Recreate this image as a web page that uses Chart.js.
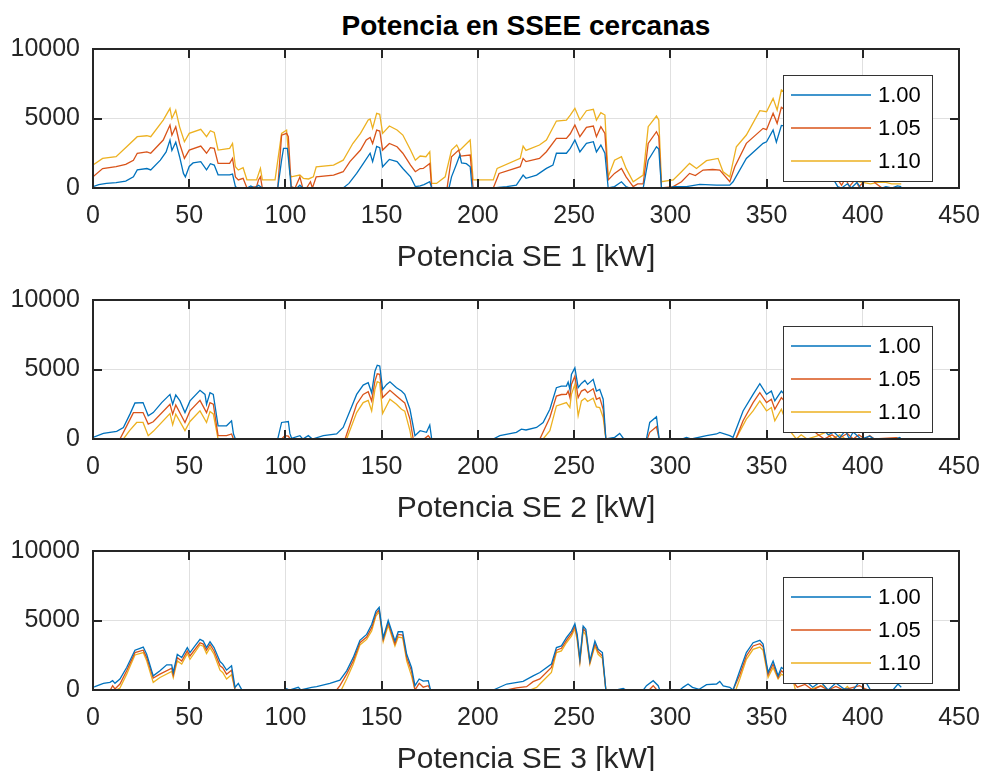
<!DOCTYPE html>
<html>
<head>
<meta charset="utf-8">
<script src="https://cdn.jsdelivr.net/npm/chart.js@4.4.1/dist/chart.umd.min.js"></script>
<style>
    html, body { margin: 0; padding: 0; background: #fff; width: 981px; height: 771px; overflow: hidden; }
    #title { position: absolute; left: 93px; width: 866px; top: 9px; text-align: center;
             font: bold 28px 'Liberation Sans', Arial, sans-serif; color: #000; line-height: 34px; }
    canvas { position: absolute; left: 0; }
</style>
</head>
<body>
<div id="title">Potencia en SSEE cercanas</div>
<canvas id="chartSE1" width="981" height="290" style="top:0px"></canvas>
<canvas id="chartSE2" width="981" height="290" style="top:251px"></canvas>
<canvas id="chartSE3" width="981" height="290" style="top:502px"></canvas>
<script>
// --- Données (x = potencia, y = valor) ---
const seriesLabels = ['1.00', '1.05', '1.10'];
const seriesColors = ['#0072BD', '#D95319', '#EDB120'];
const xAxisLabels = ['Potencia SE 1 [kW]', 'Potencia SE 2 [kW]', 'Potencia SE 3 [kW]'];
const xTickStep = 50, xMax = 450;
const yTickStep = 5000, yMax = 10000;

// SE 1
const se1_100 = [[0,100],[3,250],[7,330],[12,380],[17,500],[21,800],[23,1300],[28,1400],[30,1300],[35,2000],[38,2600],[40,3450],[41,2700],[43,3300],[45,2250],[47,1050],[48,800],[50,1550],[52,1800],[56,1900],[59,1300],[61,1750],[63,1650],[65,950],[71,950],[72.5,1000],[74,100],[75,0],[80,0],[82,150],[84,0],[86,200],[88,0],[96,0],[98,2000],[99,2850],[101,2850],[102,1500],[103,0],[106,0],[107.5,200],[109,0],[130,0],[133,330],[137,1050],[140.5,1770],[144,2500],[145.3,1900],[147.4,3000],[149,2900],[150.5,1530],[154,2060],[158,1900],[161,1400],[165,800],[167.5,100],[170,150],[172,250],[175,450],[176,0],[185,0],[186.3,800],[189,1770],[190.6,2370],[191.5,1800],[194,1750],[196,1530],[197,0],[208,0],[215,100],[220,200],[223.5,930],[225,700],[230.5,930],[235.6,1410],[239,1650],[240.8,2500],[246,2500],[248,2850],[250.4,3450],[253,2600],[256.4,3210],[260,3330],[261.6,2600],[263.9,3090],[266,2500],[267.7,0],[271,100],[274.6,450],[277,100],[279,0],[285.9,0],[288.5,2000],[292.8,2970],[294,2800],[295.4,0],[300,0],[301.5,100],[308.4,100],[315.3,260],[324,200],[330.9,200],[332.6,450],[339.5,2130],[348.2,3210],[350,3330],[353.4,4170],[355.1,3300],[357.7,4500],[362,4400],[370,3500],[378,2000],[384,800],[387,100],[389,0],[392,300],[394,0],[397,400],[399,0],[410,0],[412,100],[415,0],[418,150],[420,100]];
const se1_105 = [[0,800],[5,1400],[12,1530],[17,1700],[21,2000],[23,2500],[28,2600],[30,2500],[36.5,3450],[40,4530],[41,3800],[43,4400],[45,3200],[47.5,2130],[50,2730],[56,3020],[59,2500],[61,2900],[63,2850],[65,1770],[71,1770],[72.5,2130],[74,800],[75.5,580],[78,700],[80,0],[85,100],[86,580],[87,800],[88,0],[96,0],[98,3800],[100.6,3930],[101.5,3700],[103,100],[105,0],[107.5,800],[109,0],[111,0],[113,450],[114,0],[116,800],[125,930],[130,1170],[133.5,1900],[139,2730],[142,3450],[144,3640],[145.3,3200],[147.4,4170],[149,4100],[150.5,2730],[154,3200],[158,2970],[161,2500],[165,1650],[167.5,1170],[170,1400],[171.6,1410],[175,1770],[176,0],[184,0],[186.3,2250],[190,2730],[191,2300],[196,2370],[197.5,0],[208,0],[211,1050],[222,1530],[223.5,2130],[225,1900],[232,2130],[235.6,2610],[240.8,3570],[246,3570],[248,3900],[250.4,4530],[253,3690],[256.4,4360],[260,4460],[261.6,3690],[263.9,4410],[266,3930],[267.7,580],[271,1050],[274.6,1410],[277,800],[280.7,100],[283,300],[285.9,300],[288.5,3210],[292.8,4050],[294,3700],[295.4,0],[301.5,100],[305.8,450],[310,1050],[313,900],[317,1290],[322,1330],[325.7,1290],[330.9,450],[333.5,1530],[339.5,3210],[348.2,4290],[350,4200],[353.4,5370],[355.5,4650],[357.7,5800],[362,5400],[370,4300],[378,2800],[384,1500],[387,600],[389,200],[391,700],[393,100],[396,600],[398,100],[401,500],[404,700],[407,300],[410,0],[420,0]];
const se1_110 = [[0,1650],[5,2130],[12,2250],[17.5,2970],[23,3690],[28,3760],[30,3690],[36.5,4890],[40,5730],[41,5000],[43,5600],[45,4400],[47.5,3330],[50,3930],[56,4220],[59,3690],[61,4120],[63,4000],[65,2730],[71,2850],[72.5,3200],[74,1530],[75.5,1290],[78,1460],[80,580],[85,580],[87,1410],[88,580],[94.6,580],[98,3930],[100.6,4170],[102.3,1000],[103,800],[107.5,930],[109.3,700],[112,650],[114.5,800],[116,1530],[125,1650],[130,2000],[135,3200],[139,3930],[143,4890],[144,4960],[145.3,4290],[147.4,5370],[149,5300],[150.5,3930],[154,4460],[158,4170],[161,3810],[165,2730],[167.5,2000],[170,2300],[173,2250],[175,2610],[176,330],[178.5,330],[183,800],[186.3,2730],[189,3090],[190.5,2700],[196,3450],[197.5,580],[208,580],[210,1410],[222,2130],[223.5,3020],[225,2700],[232,3090],[235.6,3450],[240.8,4820],[246,4890],[248,5250],[250.4,5730],[253,4890],[256.4,5560],[260,5660],[261.6,4890],[263.9,5420],[266,5250],[267.7,800],[271,2000],[274.6,2250],[277,1410],[280.7,450],[285.9,930],[288.5,4410],[292.8,5180],[294,4900],[295.4,450],[301.5,580],[305.8,1170],[310,1770],[313.6,1400],[318.8,1970],[324.8,2130],[327.4,1170],[330.9,800],[334.3,2970],[339.5,3810],[346.5,5560],[350,5490],[353.4,6450],[355.5,5610],[357.7,7050],[362,6600],[370,5500],[378,4000],[384,2400],[388,1200],[392,600],[396,500],[400,400],[404,300],[408,400],[412,400],[415,300],[420,300]];

// SE 2
const se2_100 = [[0,120],[5.4,400],[12.3,550],[15.8,830],[19.2,1790],[21.8,2590],[26,2620],[28.7,1670],[31.3,1900],[35.7,2620],[40,3210],[41.4,2500],[43,3170],[45.2,2740],[47.8,1900],[50.4,2740],[55.6,3500],[58.2,3210],[59,2500],[60.8,3330],[62.5,3210],[65,950],[69.4,950],[72,1310],[73,360],[74,0],[96,0],[98,1190],[101.5,1260],[102.3,400],[103.2,50],[107.5,240],[109,0],[111.9,240],[114,0],[119.7,240],[126.6,360],[130,830],[133.5,2020],[137,3210],[140.4,3880],[143,4050],[144.8,3330],[146.5,4880],[147.7,5310],[149,5250],[150.5,3570],[152.6,3930],[154.3,4120],[157.7,3690],[160.3,3450],[162,3210],[164.7,2140],[167.3,240],[170,600],[173.3,480],[175,1000],[176,0],[208,0],[211.4,240],[220,480],[222.6,710],[225,650],[230.5,830],[233.9,1190],[237.4,2140],[240.8,3690],[243.4,3810],[246,3810],[246.9,4100],[247.8,3570],[248.6,4640],[250.4,5120],[252.1,3690],[253.8,4000],[255.6,4210],[257,3930],[259.9,4290],[261.6,3450],[263.3,3570],[265.1,2860],[266.5,0],[271.1,120],[273.7,400],[275.8,0],[287.6,0],[289.3,1190],[292.8,1600],[294.2,0],[306,0],[308.4,120],[311,0],[318.8,240],[324,360],[325.7,480],[330.9,240],[332.6,120],[337.8,2020],[343,3210],[346.5,3980],[350,3210],[352.5,3450],[354.3,2740],[357.7,3450],[362,2800],[370,1800],[378,900],[382,300],[385,500],[388,100],[391,600],[393,0],[395,500],[399,0],[403.6,200],[406,0],[417,0],[419.2,100],[420,0]];
const se2_105 = [[0,0],[14,0],[17,800],[21,1900],[26,1900],[28.7,1070],[31.3,1240],[40,2500],[41.4,1790],[43,2450],[47.8,1190],[50.4,2020],[55.6,2780],[59,1900],[60.8,2620],[62.5,2500],[65,240],[69.4,240],[72,360],[73,0],[98,0],[99.7,240],[101.5,200],[102.5,0],[131,0],[137,2500],[140.4,3210],[143,3400],[144.8,2740],[146.5,4170],[147.7,4690],[149,4650],[150.5,2980],[154.3,3500],[157.7,3090],[160.3,2780],[162,2600],[164.7,1430],[166.4,0],[172,0],[174.2,240],[175.5,0],[232.2,0],[237.4,1550],[240.8,3090],[243.4,3200],[246,3210],[246.9,3450],[247.8,2980],[248.6,3930],[250.4,4520],[252.1,2980],[253.8,3450],[255.6,3570],[257,3330],[259.9,3620],[261.6,2860],[263.3,2980],[265.1,2140],[266.5,0],[288,0],[289.3,480],[292.8,880],[294.2,0],[334,0],[337.8,1310],[343,2620],[346.5,3330],[350,2620],[352.5,2860],[354.3,2140],[357.7,2980],[362,2300],[370,1200],[376,400],[380,0],[384,300],[387,0],[392,400],[395,0],[398,300],[401,0],[403.6,240],[406,0],[417.5,100],[420,0]];
const se2_110 = [[0,0],[15.8,0],[19,600],[22.7,1190],[26,1190],[28.7,240],[31.3,550],[40,1830],[41.4,1020],[43,1790],[47.8,600],[50.4,1260],[55.6,2020],[59,1190],[60.8,1980],[62.5,1800],[65,0],[131.8,0],[137,1900],[140.4,2620],[143,2780],[144.8,2020],[146.5,3570],[147.7,4120],[149,4050],[150.5,1830],[154.3,2860],[157.7,2500],[160.3,2140],[162,2000],[164.7,600],[165.5,0],[233.9,0],[237.4,600],[240.8,2380],[246,2620],[247.8,2260],[248.6,3210],[250.4,3930],[252.1,1670],[253.8,2740],[255.6,2930],[257,2700],[259.9,2930],[261.6,2310],[263.3,2260],[265.1,1550],[266.5,0],[334,0],[339.5,1430],[343,2020],[346.5,2740],[350,2020],[352.5,2260],[354.3,1310],[357.7,2140],[362,600],[365.5,0],[368,300],[371,0],[376,200],[381,500],[384,0],[388,300],[391,0],[420,0]];

// SE 3
const se3_100 = [[0,200],[1,240],[5.4,480],[8.8,550],[10.2,670],[11.4,480],[14,790],[17.5,1620],[21.8,2860],[24.4,3000],[26.1,3090],[27.9,2570],[31.3,1020],[34.8,1380],[38.3,1810],[40.9,1810],[41.7,1260],[43.8,2570],[46.1,2330],[49,3050],[50.4,2690],[53,3170],[55.6,3640],[57.3,3520],[59,3050],[60.8,3470],[62.9,3050],[66,2050],[67.4,1860],[69.4,1430],[72,1740],[73.8,190],[75.5,480],[77.2,50],[79,0],[99,0],[100.6,100],[102,0],[106.7,190],[108,0],[113.6,190],[116.2,240],[123.1,480],[128.3,710],[131.8,1380],[135.2,2330],[138.7,3570],[142.2,4000],[144.8,4710],[147,5660],[148.7,5950],[150.8,3760],[153.4,5000],[156.9,3520],[158.6,4190],[160.9,4190],[163,2570],[165.5,1620],[167.3,310],[169.5,790],[171.6,640],[174.2,670],[175.4,0],[208,0],[215,430],[223.5,620],[228.7,1020],[232.2,1260],[238.2,1860],[240.8,3050],[243.4,3170],[246,3760],[248.6,4240],[250.4,4760],[251.6,4000],[253,2210],[254.7,4590],[256.1,4360],[258.2,2090],[260.8,3520],[262.5,2930],[264.7,2690],[266.5,0],[272,0],[275.5,120],[277,0],[286,0],[287.6,310],[291.1,670],[293.7,310],[294.5,0],[305,0],[306.6,190],[309.2,430],[311.5,190],[315,50],[318.8,380],[324,430],[325.7,620],[327.5,300],[330.9,190],[332.6,0],[336.1,1380],[339.5,2690],[343,3400],[346.5,3570],[348.2,3300],[350.8,1260],[353.4,2090],[356,1020],[357.7,1620],[362,1200],[366,500],[370,700],[374,200],[378,600],[382,0],[386,500],[390,100],[395,0],[398.4,620],[401.9,500],[404,0],[415.7,0],[418.3,430],[420,200]];
const se3_105 = [[0,0],[9,0],[10.2,310],[11.4,80],[14,430],[17.5,1380],[21.8,2690],[26.1,2860],[27.9,2330],[31.3,860],[34.8,1140],[40.9,1570],[41.7,1070],[43.8,2330],[46.1,2090],[49,2810],[50.4,2450],[55.6,3400],[57.3,3300],[59,2860],[60.8,3280],[62.9,2810],[66,1740],[67.4,1600],[69.4,1140],[72,1430],[73.8,0],[126.6,0],[128.3,310],[131.8,1140],[135.2,2090],[138.7,3400],[142.2,3810],[144.8,4470],[147,5470],[148.7,5780],[150.8,3640],[153.4,4830],[156.9,3330],[158.6,4000],[160.9,3950],[163,2330],[165.5,1380],[167.3,0],[169.5,480],[171.6,200],[174.2,310],[175.4,0],[215,0],[220,150],[225.3,240],[228.7,600],[232.2,800],[238.2,1620],[240.8,2860],[243.4,3000],[246,3570],[248.6,4050],[250.4,4590],[251.6,3810],[253,2090],[254.7,4430],[256.1,4190],[258.2,1980],[260.8,3330],[262.5,2760],[264.7,2450],[266.5,0],[289,0],[291.1,310],[293,0],[332.6,0],[336.1,1100],[339.5,2450],[343,3170],[346.5,3330],[348.2,3100],[350.8,1100],[353.4,1860],[356,900],[357.7,1380],[362,900],[366,200],[370,400],[374,0],[378,300],[382,0],[386,250],[390,0],[398.4,310],[401,100],[403,0],[420,0]];
const se3_110 = [[0,0],[12,0],[14,140],[17.5,1140],[21.8,2520],[26.1,2690],[27.9,2100],[31.3,550],[34.8,900],[40.9,1330],[41.7,900],[43.8,2090],[46.1,1860],[49,2620],[50.4,2210],[55.6,3240],[57.3,3150],[59,2620],[60.8,3050],[62.9,2570],[66,1430],[67.4,1260],[69.4,790],[72,1100],[73.8,0],[129,0],[131.8,790],[135.2,1860],[138.7,3240],[142.2,3640],[144.8,4240],[147,5310],[148.7,5620],[150.8,3470],[153.4,4660],[156.9,3170],[158.6,3810],[160.9,3760],[163,2090],[165.5,1020],[167.3,0],[227,0],[230.5,190],[232.2,430],[238.2,1260],[240.8,2690],[243.4,2810],[246,3400],[248.6,3880],[250.4,4430],[251.6,3570],[253,1980],[254.7,4240],[256.1,3950],[258.2,1860],[260.8,3170],[262.5,2570],[264.7,2280],[266.5,0],[334,0],[336.1,790],[339.5,2210],[343,2930],[346.5,3090],[348.2,2850],[350.8,900],[353.4,1620],[356,790],[357.7,1140],[362,800],[363.8,670],[365,0],[372,0],[376,200],[380,310],[381.5,0],[390,0],[392,250],[393.5,0],[420,0]];

const FONT = "'Liberation Sans', Arial, sans-serif";
const AXIS_COLOR = '#262626';
Chart.defaults.font.family = FONT;
Chart.defaults.color = AXIS_COLOR;

// Cadre, graduations intérieures et légende façon MATLAB
const matlabAxes = {
    id: 'matlabAxes',
    afterDatasetsDraw(chart) {
        const ctx = chart.ctx;
        const a = chart.chartArea;
        const xs = chart.scales.x, ys = chart.scales.y;
        const tick = 9;
        ctx.save();
        ctx.strokeStyle = AXIS_COLOR;
        ctx.lineWidth = 2;
        ctx.beginPath();
        xs.ticks.forEach(t => {
            const px = Math.round(xs.getPixelForValue(t.value));
            ctx.moveTo(px, a.bottom); ctx.lineTo(px, a.bottom - tick);
            ctx.moveTo(px, a.top); ctx.lineTo(px, a.top + tick);
        });
        ys.ticks.forEach(t => {
            const py = Math.round(ys.getPixelForValue(t.value));
            ctx.moveTo(a.left, py); ctx.lineTo(a.left + tick, py);
            ctx.moveTo(a.right, py); ctx.lineTo(a.right - tick, py);
        });
        ctx.stroke();
        ctx.strokeRect(a.left, a.top, a.right - a.left, a.bottom - a.top);

        // légende
        const lx = a.right - 176, ly = a.top + 26, lw = 149, lh = 106;
        ctx.fillStyle = '#fff';
        ctx.fillRect(lx, ly, lw, lh);
        ctx.lineWidth = 1;
        ctx.strokeStyle = '#333';
        ctx.strokeRect(lx + 0.5, ly + 0.5, lw, lh);
        ctx.font = '22px ' + FONT;
        ctx.textBaseline = 'middle';
        ctx.textAlign = 'left';
        chart.data.datasets.forEach((ds, i) => {
            const yy = ly + 20 + i * 33;
            ctx.strokeStyle = ds.borderColor;
            ctx.lineWidth = 1.5;
            ctx.beginPath();
            ctx.moveTo(lx + 8, yy); ctx.lineTo(lx + 88, yy);
            ctx.stroke();
            ctx.fillStyle = '#000';
            ctx.fillText(ds.label, lx + 95, yy + 1);
        });
        ctx.restore();
    }
};

function makeChart(canvasId, seriesList, xLabel) {
    return new Chart(document.getElementById(canvasId).getContext('2d'), {
        type: 'line',
        data: {
            datasets: seriesList.map((pts, i) => ({
                label: seriesLabels[i],
                data: pts.map(p => ({ x: p[0], y: p[1] })),
                borderColor: seriesColors[i],
                backgroundColor: seriesColors[i],
                borderWidth: 1.3,
                pointRadius: 0,
                tension: 0,
                fill: false
            }))
        },
        options: {
            responsive: false,
            animation: false,
            devicePixelRatio: 1,
            layout: { padding: { top: 49, right: 22, bottom: 14, left: 0 } },
            plugins: { legend: { display: false }, tooltip: { enabled: false }, title: { display: false } },
            scales: {
                x: {
                    type: 'linear',
                    min: 0, max: xMax,
                    border: { display: false },
                    grid: { color: '#e0e0e0', lineWidth: 1, drawTicks: false },
                    ticks: { stepSize: xTickStep, font: { size: 25 }, color: AXIS_COLOR, padding: 13, maxRotation: 0 },
                    title: { display: true, text: xLabel, font: { size: 30 }, color: AXIS_COLOR, padding: 0 },
                    afterFit(scale) { scale.height = 88; scale.paddingLeft = 0; scale.paddingRight = 0; }
                },
                y: {
                    min: 0, max: yMax,
                    border: { display: false },
                    grid: { color: '#e0e0e0', lineWidth: 1, drawTicks: false },
                    ticks: { stepSize: yTickStep, font: { size: 25 }, color: AXIS_COLOR, padding: 13,
                             callback: v => String(v) },
                    afterFit(scale) { scale.width = 93; scale.paddingTop = 0; scale.paddingBottom = 0; }
                }
            }
        },
        plugins: [matlabAxes]
    });
}

makeChart('chartSE1', [se1_100, se1_105, se1_110], xAxisLabels[0]);
makeChart('chartSE2', [se2_100, se2_105, se2_110], xAxisLabels[1]);
makeChart('chartSE3', [se3_100, se3_105, se3_110], xAxisLabels[2]);
</script>
</body>
</html>
